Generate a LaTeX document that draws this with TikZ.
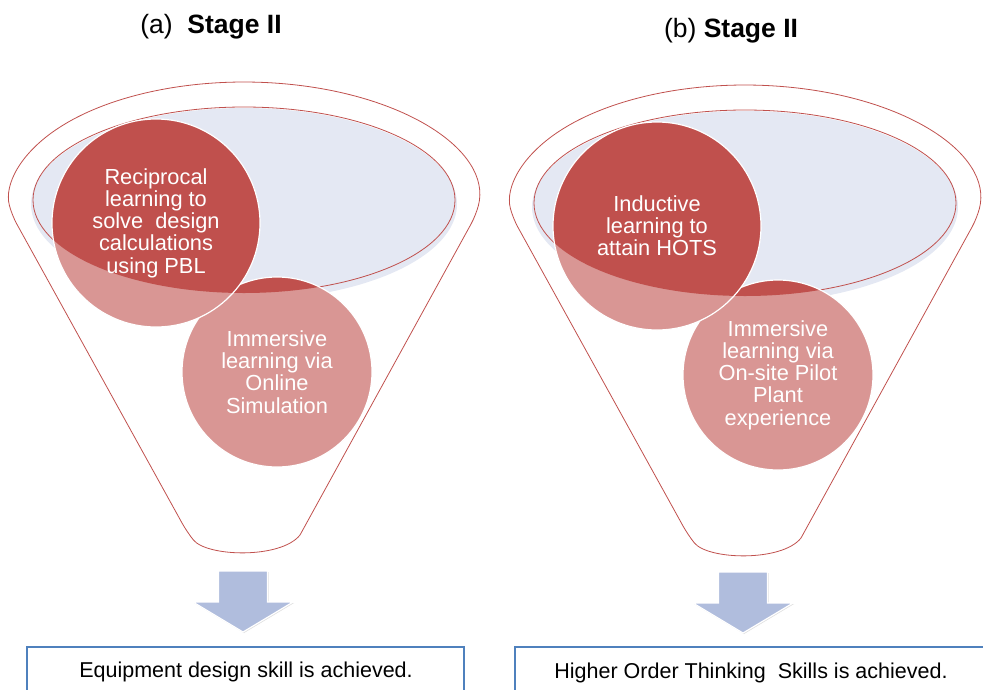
\documentclass[tikz,border=0pt]{standalone}
\usepackage{fontspec}
\setmainfont{Liberation Sans}
\definecolor{dred}{HTML}{C0504D}
\definecolor{lred}{HTML}{D99694}
\definecolor{lblue}{HTML}{E4E8F3}
\definecolor{arrbl}{HTML}{B0BDDD}
\definecolor{boxbl}{HTML}{4F81BD}
\usetikzlibrary{positioning, shadows}

\begin{document}
\begin{tikzpicture}[x=1pt, y=-1pt,
                    every node/.style = {text=black, inner sep=0pt},
                    funnel/.style = {draw=dred, line width=0.8pt, rounded corners=10pt},
                    rim/.style = {draw=dred, line width=0.8pt},
                    bubtext/.style = {text=white, align=center, font=\fontsize{21.8}{22.2}\selectfont},
                    title/.style = {anchor=base, font=\fontsize{26.5}{30}\selectfont},
                    result/.style = {anchor=base, font=\fontsize{21.5}{25}\selectfont},
                    outbox/.style = {draw=boxbl, line width=1.6pt},
                    blockarrow/.style = {fill=arrbl, draw=white, line width=1.2pt,
                                         drop shadow={shadow xshift=1pt, shadow yshift=-1pt, opacity=0.25}}]
    \useasboundingbox (0,0) rectangle (983,689);

    % the two funnels
    \foreach \dx/\dy in {0/0, 501/3} {
        \begin{scope}[shift={(\dx,\dy)}]
            \draw[funnel] (476,215) arc[start angle=7.3, end angle=-187.3, x radius=234, y radius=118]
                -- (187,532) [sharp corners] .. controls (207,557) and (281,559) .. (300,535)
                [rounded corners=10pt] -- cycle;
            \fill[lblue] (244,204) ellipse[x radius=213, y radius=96];
            \draw[rim] (244,200) ellipse[x radius=211, y radius=93];
            % lower circle
            \fill[lred] (277,372) circle[radius=95];
            \begin{scope}
                \clip (244,200) ellipse[x radius=211, y radius=93];
                \fill[dred] (277,372) circle[radius=95];
            \end{scope}
            \draw[white, line width=1.2pt] (277,372) circle[radius=95];
            % upper circle
            \fill[lred] (156,223) circle[radius=104];
            \begin{scope}
                \clip (244,200) ellipse[x radius=211, y radius=93];
                \fill[dred] (156,223) circle[radius=104];
            \end{scope}
            \draw[white, line width=1.2pt] (156,223) circle[radius=104];
        \end{scope}
    }

    \node (tita) [title] at (211,33) {(a)\ \ \textbf{Stage II}};
    \node (titb) [title] at (731,37) {(b) \textbf{Stage II}};

    \node (recip)  [bubtext] at (156,223) {Reciprocal\\learning to\\solve\ \ design\\calculations\\using PBL};
    \node (onlsim) [bubtext] at (277,372) {Immersive\\learning via\\Online\\Simulation};
    \node (induct) [bubtext] at (657,226) {Inductive\\learning to\\attain HOTS};
    \node (pilot)  [bubtext] at (778,375) {Immersive\\learning via\\On-site Pilot\\Plant\\experience};

    % block arrows
    \coordinate (tipa) at (243,632);
    \coordinate (tipb) at (743,633);
    \draw[blockarrow] (tipa) -- ++(-50,-30) -- ++(25.5,0) -- ++(0,-31) -- ++(49,0)
        -- ++(0,31) -- ++(25.5,0) -- cycle;
    \draw[blockarrow] (tipb) -- ++(-50,-30) -- ++(25.5,0) -- ++(0,-31) -- ++(49,0)
        -- ++(0,31) -- ++(25.5,0) -- cycle;

    % result boxes
    \draw[outbox] (27,647) rectangle (464,705);
    \draw[outbox] (515,647) rectangle (995,705);
    \node (resa) [result] at (246,677) {Equipment design skill is achieved.};
    \node (resb) [result] at (751,678) {Higher Order Thinking\ \ Skills is achieved.};
\end{tikzpicture}
\end{document}
